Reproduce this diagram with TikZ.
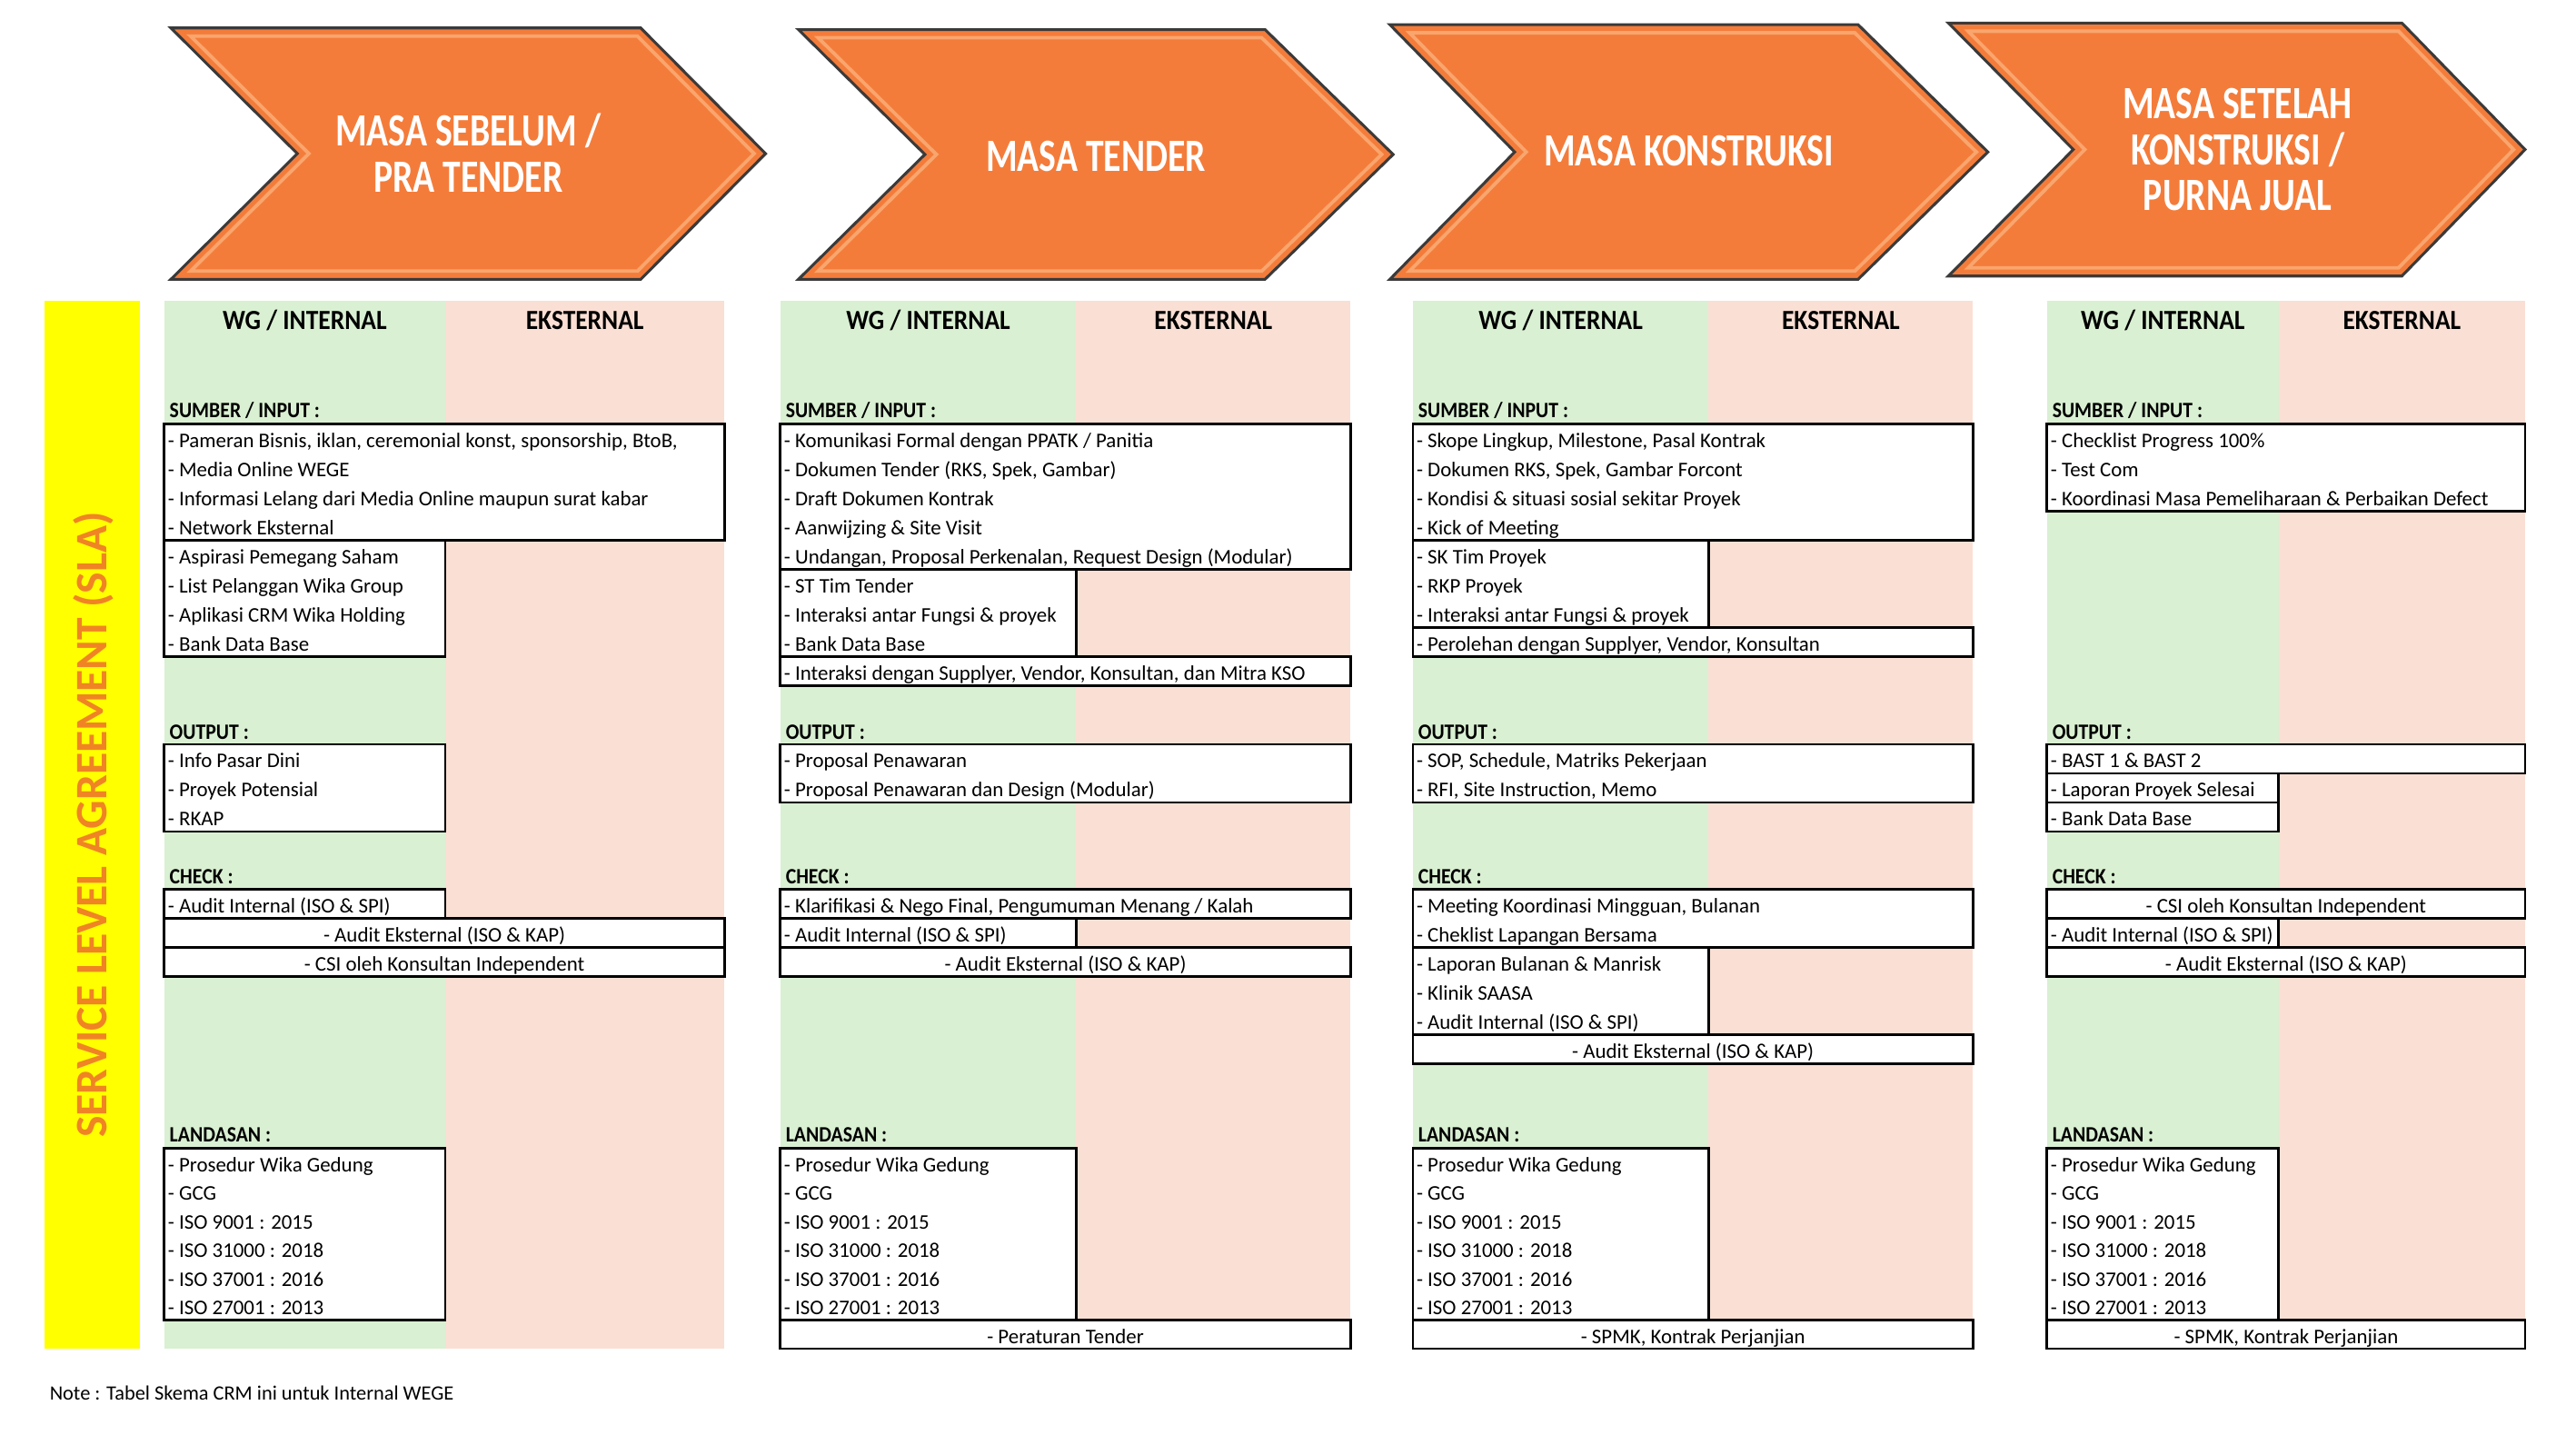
\documentclass[tikz,border=0pt]{standalone}
\usepackage{fontspec}
\setmainfont{Carlito}
\newfontfamily\headfont{Carlito}[FakeStretch=0.9]
\newfontfamily\chevfont{Carlito}[FakeStretch=0.78]

\definecolor{intbg}{HTML}{D9F0D2}
\definecolor{extbg}{HTML}{FADFD4}
\definecolor{chevfill}{HTML}{F47C3A}
\definecolor{chevline}{HTML}{3A3A3A}
\definecolor{chevlight}{HTML}{F9A56E}
\definecolor{slayellow}{HTML}{FFFF00}
\definecolor{slatext}{HTML}{F08424}

\tikzset{
  box/.style={draw=black, line width=1.1pt, fill=white},
  item/.style={anchor=base west, inner sep=0pt, font=\fontsize{9}{10}\selectfont},
  itemmid/.style={item, anchor=base},
  colhead/.style={anchor=base, inner sep=0pt, font=\headfont\bfseries\fontsize{12}{14}\selectfont},
  sechead/.style={anchor=base west, inner sep=0pt, font=\headfont\bfseries\fontsize{9.5}{11}\selectfont},
  chev/.style={fill=chevfill, draw=chevline, line width=1.2pt, line join=miter},
  chevbevel/.style={draw=chevlight, line width=1.5pt, line join=miter},
  chevtext/.style={text=white, align=center, font=\chevfont\bfseries\fontsize{20}{20}\selectfont},
}

\begin{document}
\begin{tikzpicture}[x=0.025cm,y=-0.025cm]

    \useasboundingbox (0,0) rectangle (1568,873);
    \fill[white] (0,0) rectangle (1568,873);

    % Phase chevrons
    \foreach \xl/\xr/\xt/\xn/\ya/\yb in {104/390/466/181/17/170, 486/770/848/563/18/170, 846/1131/1210/922/15/170, 1186/1462/1537/1262/14/168} {
        \draw[chev] (\xl,\ya) -- (\xr,\ya) -- (\xt,{(\ya+\yb)/2}) -- (\xr,\yb) -- (\xl,\yb) -- (\xn,{(\ya+\yb)/2}) -- cycle;
        \draw[chevbevel] ({\xl+12},{\ya+5}) -- ({\xr-2},{\ya+5}) -- ({\xt-7},{(\ya+\yb)/2}) -- ({\xr-2},{\yb-5}) -- ({\xl+12},{\yb-5}) -- ({\xn+7},{(\ya+\yb)/2}) -- cycle;
    }
    \node[chevtext] (phase1) at (285,93) {MASA SEBELUM /\\PRA TENDER};
    \node[chevtext] (phase2) at (667,95) {MASA TENDER};
    \node[chevtext] (phase3) at (1028,92) {MASA KONSTRUKSI};
    \node[chevtext] (phase4) at (1362,91) {MASA SETELAH\\KONSTRUKSI /\\PURNA JUAL};

    % SLA bar
    \fill[slayellow] (27,183) rectangle (85,821);
    \node[rotate=90, text=slatext, font=\bfseries\fontsize{19.5}{20}\selectfont] (sla) at (57,502) {SERVICE LEVEL AGREEMENT (SLA)};

    % Columns and section labels
    \foreach \pn/\xl/\xm/\xr in {1/100/271/441, 2/475/655/822, 3/860/1040/1201, 4/1246/1387/1537} {
        \fill[intbg] (\xl,183) rectangle (\xm,821);
        \fill[extbg] (\xm,183) rectangle (\xr,821);
        \node[colhead] (p\pn int) at ({(\xl+\xm)/2},200.5) {WG / INTERNAL};
        \node[colhead] (p\pn ext) at ({(\xm+\xr)/2},200.5) {EKSTERNAL};
        \node[sechead] (p\pn in) at ({\xl+3},254) {SUMBER / INPUT :};
        \node[sechead] (p\pn out) at ({\xl+3},450) {OUTPUT :};
        \node[sechead] (p\pn chk) at ({\xl+3},538) {CHECK :};
        \node[sechead] (p\pn lan) at ({\xl+3},695) {LANDASAN :};
    }

    % Panel 1 : pra tender
    \draw[box] (100,258) rectangle (441,328.8);
    \draw[box] (100,328.8) rectangle (271,399.6);
    \draw[box] (100,453) rectangle (271,506.1);
    \draw[box] (100,541) rectangle (271,558.7);
    \draw[box] (100,558.7) rectangle (441,576.4);
    \draw[box] (100,576.4) rectangle (441,594.1);
    \draw[box] (100,699) rectangle (271,803.4);
    \foreach \txt [count=\i from 0] in {{- Pameran Bisnis, iklan, ceremonial konst, sponsorship, BtoB,}, {- Media Online WEGE}, {- Informasi Lelang dari Media Online maupun surat kabar}, {- Network Eksternal}, {- Aspirasi Pemegang Saham}, {- List Pelanggan Wika Group}, {- Aplikasi CRM Wika Holding}, {- Bank Data Base}}
        \node[item] (p1i\i) at (102,{272.35+17.7*\i}) {\txt};
    \foreach \txt [count=\i from 0] in {{- Info Pasar Dini}, {- Proyek Potensial}, {- RKAP}}
        \node[item] (p1o\i) at (102,{467.35+17.7*\i}) {\txt};
    \node[item] (p1c0) at (102,555.35) {- Audit Internal (ISO \& SPI)};
    \node[itemmid] (p1c1) at (270.5,573.05) {- Audit Eksternal (ISO \& KAP)};
    \node[itemmid] (p1c2) at (270.5,590.75) {- CSI oleh Konsultan Independent};

    % Panel 2 : tender
    \draw[box] (475,258) rectangle (822,346.5);
    \draw[box] (475,346.5) rectangle (655,399.6);
    \draw[box] (475,399.6) rectangle (822,417.3);
    \draw[box] (475,453) rectangle (822,488.4);
    \draw[box] (475,541) rectangle (822,558.7);
    \draw[box] (475,558.7) rectangle (655,576.4);
    \draw[box] (475,576.4) rectangle (822,594.1);
    \draw[box] (475,699) rectangle (655,803.4);
    \draw[box] (475,803.4) rectangle (822,820.8);
    \foreach \txt [count=\i from 0] in {{- Komunikasi Formal dengan PPATK / Panitia}, {- Dokumen Tender (RKS, Spek, Gambar)}, {- Draft Dokumen Kontrak}, {- Aanwijzing \& Site Visit}, {- Undangan, Proposal Perkenalan, Request Design (Modular)}, {- ST Tim Tender}, {- Interaksi antar Fungsi \& proyek}, {- Bank Data Base}, {- Interaksi dengan Supplyer, Vendor, Konsultan, dan Mitra KSO}}
        \node[item] (p2i\i) at (477,{272.35+17.7*\i}) {\txt};
    \foreach \txt [count=\i from 0] in {{- Proposal Penawaran}, {- Proposal Penawaran dan Design (Modular)}}
        \node[item] (p2o\i) at (477,{467.35+17.7*\i}) {\txt};
    \node[item] (p2c0) at (477,555.35) {- Klarifikasi \& Nego Final, Pengumuman Menang / Kalah};
    \node[item] (p2c1) at (477,573.05) {- Audit Internal (ISO \& SPI)};
    \node[itemmid] (p2c2) at (648.5,590.75) {- Audit Eksternal (ISO \& KAP)};
    \node[itemmid] (p2l6) at (648.5,817.6) {- Peraturan Tender};

    % Panel 3 : konstruksi
    \draw[box] (860,258) rectangle (1201,328.8);
    \draw[box] (860,328.8) rectangle (1040,381.9);
    \draw[box] (860,381.9) rectangle (1201,399.6);
    \draw[box] (860,453) rectangle (1201,488.4);
    \draw[box] (860,541) rectangle (1201,576.4);
    \draw[box] (860,576.4) rectangle (1040,629.5);
    \draw[box] (860,629.5) rectangle (1201,647.2);
    \draw[box] (860,699) rectangle (1040,803.4);
    \draw[box] (860,803.4) rectangle (1201,820.8);
    \foreach \txt [count=\i from 0] in {{- Skope Lingkup, Milestone, Pasal Kontrak}, {- Dokumen RKS, Spek, Gambar Forcont}, {- Kondisi \& situasi sosial sekitar Proyek}, {- Kick of Meeting}, {- SK Tim Proyek}, {- RKP Proyek}, {- Interaksi antar Fungsi \& proyek}, {- Perolehan dengan Supplyer, Vendor, Konsultan}}
        \node[item] (p3i\i) at (862,{272.35+17.7*\i}) {\txt};
    \foreach \txt [count=\i from 0] in {{- SOP, Schedule, Matriks Pekerjaan}, {- RFI, Site Instruction, Memo}}
        \node[item] (p3o\i) at (862,{467.35+17.7*\i}) {\txt};
    \foreach \txt [count=\i from 0] in {{- Meeting Koordinasi Mingguan, Bulanan}, {- Cheklist Lapangan Bersama}, {- Laporan Bulanan \& Manrisk}, {- Klinik SAASA}, {- Audit Internal (ISO \& SPI)}}
        \node[item] (p3c\i) at (862,{555.35+17.7*\i}) {\txt};
    \node[itemmid] (p3c5) at (1030.5,643.85) {- Audit Eksternal (ISO \& KAP)};
    \node[itemmid] (p3l6) at (1030.5,817.6) {- SPMK, Kontrak Perjanjian};

    % Panel 4 : purna jual
    \draw[box] (1246,258) rectangle (1537,311.1);
    \draw[box] (1246,453) rectangle (1537,470.7);
    \draw[box] (1246,470.7) rectangle (1387,488.4);
    \draw[box] (1246,488.4) rectangle (1387,506.1);
    \draw[box] (1246,541) rectangle (1537,558.7);
    \draw[box] (1246,558.7) rectangle (1387,576.4);
    \draw[box] (1246,576.4) rectangle (1537,594.1);
    \draw[box] (1246,699) rectangle (1387,803.4);
    \draw[box] (1246,803.4) rectangle (1537,820.8);
    \foreach \txt [count=\i from 0] in {{- Checklist Progress 100\%}, {- Test Com}, {- Koordinasi Masa Pemeliharaan \& Perbaikan Defect}}
        \node[item] (p4i\i) at (1248,{272.35+17.7*\i}) {\txt};
    \foreach \txt [count=\i from 0] in {{- BAST 1 \& BAST 2}, {- Laporan Proyek Selesai}, {- Bank Data Base}}
        \node[item] (p4o\i) at (1248,{467.35+17.7*\i}) {\txt};
    \node[itemmid] (p4c0) at (1391.5,555.35) {- CSI oleh Konsultan Independent};
    \node[item] (p4c1) at (1248,573.05) {- Audit Internal (ISO \& SPI)};
    \node[itemmid] (p4c2) at (1391.5,590.75) {- Audit Eksternal (ISO \& KAP)};
    \node[itemmid] (p4l6) at (1391.5,817.6) {- SPMK, Kontrak Perjanjian};

    % Landasan lists (same in every panel)
    \foreach \pn/\px in {1/102, 2/477, 3/862, 4/1248} {
        \foreach \txt [count=\i from 0] in {{- Prosedur Wika Gedung}, {- GCG}, {- ISO 9001 : 2015}, {- ISO 31000 : 2018}, {- ISO 37001 : 2016}, {- ISO 27001 : 2013}}
            \node[item] (p\pn l\i) at (\px,{713.2+17.4*\i}) {\txt};
    }

    % Note
    \node[item, font=\fontsize{8.8}{10}\selectfont] (note) at (30,852) {Note : Tabel Skema CRM ini untuk Internal WEGE};

\end{tikzpicture}
\end{document}
